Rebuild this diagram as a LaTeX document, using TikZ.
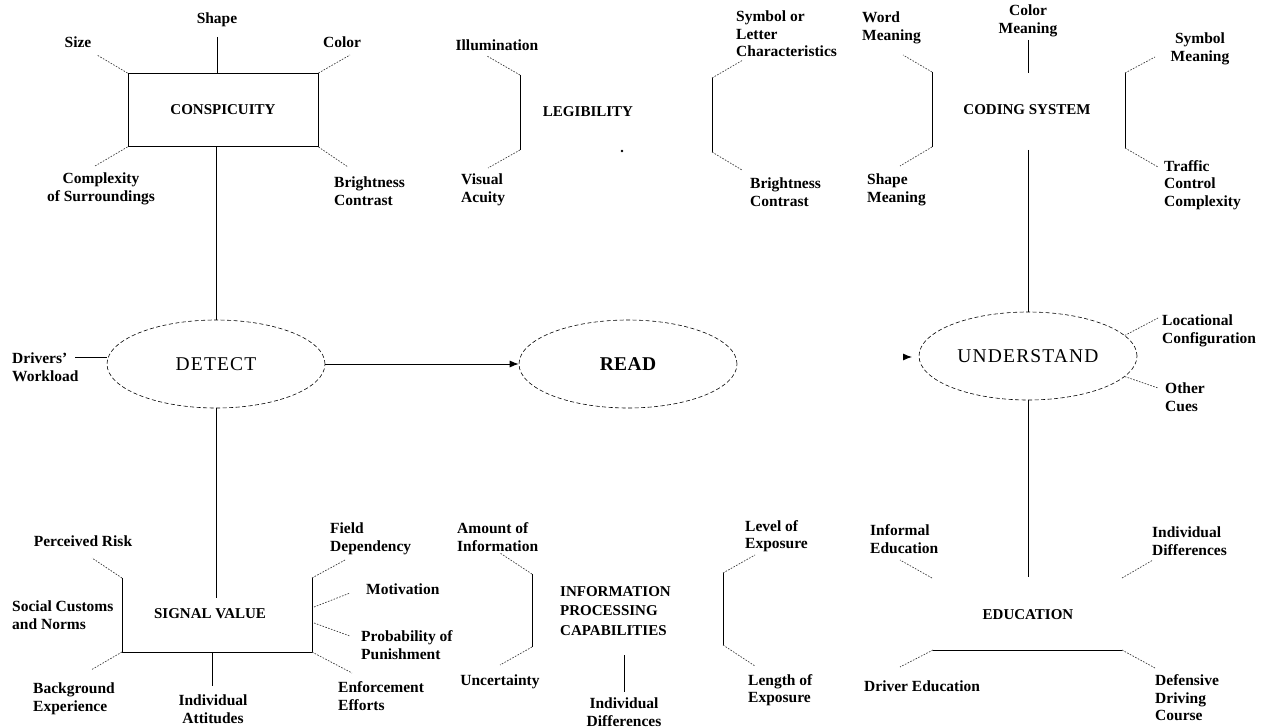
\documentclass[tikz,border=0pt]{standalone}
\usepackage{fontspec}
\setmainfont{Liberation Serif}
\usepackage{tikz}
\usetikzlibrary{arrows.meta,shapes.geometric}

\begin{document}
\begin{tikzpicture}[x=1pt, y=-1pt,
		label_style/.style={font=\bfseries\fontsize{15.5}{17.5}\selectfont, inner sep=0pt, align=left},
		title_style/.style={font=\bfseries\fontsize{15}{19.5}\selectfont, inner sep=0pt, align=left},
		oval_style/.style={ellipse, draw=black, dash pattern=on 4pt off 2.5pt, line width=0.6pt,
			minimum width=218pt, minimum height=88pt, inner sep=0pt,
			font=\fontsize{19.5}{21}\selectfont\addfontfeatures{LetterSpace=6}},
		edge_style/.style={draw=black, line width=0.9pt},
		dash_style/.style={draw=black!75, dash pattern=on 1.6pt off 1.4pt, line width=0.7pt}]
		
		\useasboundingbox (0,0) rectangle (1274,727);
		
		% conspicuity
		\node[draw=black, line width=0.9pt, minimum width=190pt, minimum height=73pt, inner sep=0pt,
			title_style] (consp) at (223,110) {CONSPICUITY};
		\node[label_style] (shape) at (217,20) {Shape};
		\node[label_style] (size) at (78,42) {Size};
		\node[label_style] (color) at (342,42) {Color};
		\node[label_style, align=center] (complex) at (101,189) {Complexity\\of Surroundings};
		\node[label_style, anchor=west] (bright1) at (334,191) {Brightness\\Contrast};
		\coordinate (shape_end) at (217,37);
		\coordinate (size_end) at (97,55);
		\coordinate (color_end) at (350,55);
		\coordinate (complex_end) at (95,166);
		\coordinate (bright1_end) at (348,167);
		
		\draw[edge_style] (shape_end) edge (shape_end |- consp.north);
		\draw[dash_style] (consp.north west) edge (size_end);
		\draw[dash_style] (consp.north east) edge (color_end);
		\draw[dash_style] (consp.south west) edge (complex_end);
		\draw[dash_style] (consp.south east) edge (bright1_end);
		
		% legibility
		\node[title_style] (legib) at (588,112) {LEGIBILITY};
		\coordinate (legdot) at (622,151);
		\fill (legdot) circle (1.3pt);
		\node[label_style] (illum) at (497,45) {Illumination};
		\node[label_style, anchor=west] (acuity) at (461,190) {Visual\\Acuity};
		\node[label_style, anchor=west] (symlet) at (736,34) {Symbol or\\Letter\\Characteristics};
		\node[label_style, anchor=west] (bright2) at (750,192) {Brightness\\Contrast};
		\coordinate (leg_lt) at (520,75);
		\coordinate (leg_lb) at (520,150);
		\coordinate (leg_rt) at (712,78);
		\coordinate (leg_rb) at (712,152);
		\coordinate (illum_end) at (487,56);
		\coordinate (acuity_end) at (488,168);
		\coordinate (symlet_end) at (743,60);
		\coordinate (bright2_end) at (742,170);
		
		\draw[edge_style] (leg_lt) edge (leg_lb);
		\draw[edge_style] (leg_rt) edge (leg_rb);
		\draw[dash_style] (leg_lt) edge (illum_end);
		\draw[dash_style] (leg_lb) edge (acuity_end);
		\draw[dash_style] (leg_rt) edge (symlet_end);
		\draw[dash_style] (leg_rb) edge (bright2_end);
		
		% coding system
		\node[title_style] (coding) at (1027,110) {CODING SYSTEM};
		\node[label_style, anchor=west] (word) at (862,28) {Word\\Meaning};
		\node[label_style, anchor=west] (shapem) at (867,190) {Shape\\Meaning};
		\node[label_style, align=center] (colorm) at (1028,21) {Color\\Meaning};
		\node[label_style, align=center] (symm) at (1200,49) {Symbol\\Meaning};
		\node[label_style, anchor=west] (traffic) at (1164,185) {Traffic\\Control\\Complexity};
		\coordinate (cod_lt) at (932,72);
		\coordinate (cod_lb) at (932,147);
		\coordinate (cod_rt) at (1125,73);
		\coordinate (cod_rb) at (1125,148);
		\coordinate (colorm_end) at (1028,40);
		\coordinate (colorm_low) at (1028,73);
		\coordinate (coding_low) at (1028,150);
		\coordinate (word_end) at (903,55);
		\coordinate (shapem_end) at (900,166);
		\coordinate (symm_end) at (1155,57);
		\coordinate (traffic_end) at (1158,167);
		
		\draw[edge_style] (cod_lt) edge (cod_lb);
		\draw[edge_style] (cod_rt) edge (cod_rb);
		\draw[edge_style] (colorm_end) edge (colorm_low);
		\draw[dash_style] (cod_lt) edge (word_end);
		\draw[dash_style] (cod_lb) edge (shapem_end);
		\draw[dash_style] (cod_rt) edge (symm_end);
		\draw[dash_style] (cod_rb) edge (traffic_end);
		
		% detect, read, understand
		\node[oval_style] (detect) at (216,364) {DETECT};
		\node[oval_style, font=\bfseries\fontsize{19.5}{21}\selectfont\addfontfeatures{LetterSpace=2}] (read) at (628,364) {READ};
		\node[oval_style] (under) at (1028,356) {UNDERSTAND};
		\node[label_style, anchor=west] (drivers) at (12,367) {Drivers'\\Workload};
		\node[label_style, anchor=west] (locat) at (1162,331) {Locational\\Configuration};
		\node[label_style, anchor=west] (cues) at (1165,397) {Other\\Cues};
		\coordinate (drivers_end) at (75,357);
		\coordinate (locat_end) at (1158,318);
		\coordinate (cues_end) at (1158,388);
		\coordinate (under_in) at (903,357);
		\coordinate (under_tip) at (912,357);
		
		\draw[edge_style] (consp.south -| detect) edge (detect.north);
		\draw[edge_style] (drivers_end) edge (drivers_end -| detect.west);
		\draw[edge_style, -{Latex[length=9pt, width=7pt]}] (detect.east) -- (read.west);
		\draw[edge_style, -{Latex[length=9pt, width=7pt]}] (under_in) -- (under_tip);
		\draw[edge_style] (coding_low) edge (under.north);
		\draw[dash_style] (under.12) edge (locat_end);
		\draw[dash_style] (under.-12) edge (cues_end);
		
		% signal value
		\node[title_style] (signal) at (210,614) {SIGNAL VALUE};
		\node[label_style] (risk) at (83,541) {Perceived Risk};
		\node[label_style, anchor=west] (social) at (12,615) {Social Customs\\and Norms};
		\node[label_style, anchor=west] (backgr) at (33,699) {Background\\Experience};
		\node[label_style, align=center] (attit) at (213,709) {Individual\\Attitudes};
		\node[label_style, anchor=west] (field) at (330,539) {Field\\Dependency};
		\node[label_style, anchor=west] (motiv) at (366,589) {Motivation};
		\node[label_style, anchor=west] (punish) at (361,645) {Probability of\\Punishment};
		\node[label_style, anchor=west] (enforce) at (338,696) {Enforcement\\Efforts};
		\coordinate (detect_low) at (216,598);
		\coordinate (sv_lt) at (122,578);
		\coordinate (sv_lb) at (122,652);
		\coordinate (sv_rb) at (312,652);
		\coordinate (sv_rt) at (312,578);
		\coordinate (sv_mid) at (212,652);
		\coordinate (attit_end) at (212,686);
		\coordinate (sv_r1) at (314,607);
		\coordinate (sv_r2) at (314,623);
		\coordinate (risk_end) at (92,558);
		\coordinate (backgr_end) at (91,670);
		\coordinate (field_end) at (345,560);
		\coordinate (motiv_end) at (350,593);
		\coordinate (punish_end) at (350,636);
		\coordinate (enforce_end) at (352,673);
		
		\draw[edge_style] (detect.south) -- (detect_low);
		\draw[edge_style] (sv_lt) -- (sv_lb) -- (sv_rb) -- (sv_rt);
		\draw[edge_style] (sv_mid) edge (attit_end);
		\draw[dash_style] (sv_lt) edge (risk_end);
		\draw[dash_style] (sv_lb) edge (backgr_end);
		\draw[dash_style] (sv_rt) edge (field_end);
		\draw[dash_style] (sv_r1) edge (motiv_end);
		\draw[dash_style] (sv_r2) edge (punish_end);
		\draw[dash_style] (sv_rb) edge (enforce_end);
		
		% information processing
		\node[title_style, anchor=west] (info) at (560,611) {INFORMATION\\PROCESSING\\CAPABILITIES};
		\node[label_style, anchor=west] (amount) at (457,537) {Amount of\\Information};
		\node[label_style] (uncert) at (500,682) {Uncertainty};
		\node[label_style, align=center] (indiv1) at (624,712) {Individual\\Differences};
		\node[label_style, anchor=west] (level) at (745,536) {Level of\\Exposure};
		\node[label_style, anchor=west] (length) at (748,690) {Length of\\Exposure};
		\coordinate (ip_lt) at (532,574);
		\coordinate (ip_lb) at (532,647);
		\coordinate (ip_rt) at (723,573);
		\coordinate (ip_rb) at (723,645);
		\coordinate (ip_mid) at (624,655);
		\coordinate (indiv1_end) at (624,692);
		\coordinate (amount_end) at (500,553);
		\coordinate (uncert_end) at (500,665);
		\coordinate (level_end) at (755,555);
		\coordinate (length_end) at (755,666);
		
		\draw[edge_style] (ip_lt) edge (ip_lb);
		\draw[edge_style] (ip_rt) edge (ip_rb);
		\draw[edge_style] (ip_mid) edge (indiv1_end);
		\draw[dash_style] (ip_lt) edge (amount_end);
		\draw[dash_style] (ip_lb) edge (uncert_end);
		\draw[dash_style] (ip_rt) edge (level_end);
		\draw[dash_style] (ip_rb) edge (length_end);
		
		% education
		\node[title_style] (educ) at (1028,615) {EDUCATION};
		\node[label_style, anchor=west] (informal) at (870,539) {Informal\\Education};
		\node[label_style, anchor=west] (indiv2) at (1152,541) {Individual\\Differences};
		\node[label_style, anchor=west] (drived) at (864,686) {Driver Education};
		\node[label_style, anchor=west] (defens) at (1155,698) {Defensive\\Driving\\Course};
		\coordinate (under_low) at (1028,577);
		\coordinate (ed_l) at (933,650);
		\coordinate (ed_r) at (1122,650);
		\coordinate (informal_a) at (932,578);
		\coordinate (informal_end) at (900,560);
		\coordinate (indiv2_a) at (1122,578);
		\coordinate (indiv2_end) at (1153,560);
		\coordinate (drived_end) at (900,667);
		\coordinate (defens_end) at (1155,668);
		
		\draw[edge_style] (under.south) -- (under_low);
		\draw[edge_style] (ed_l) edge (ed_r);
		\draw[dash_style] (informal_a) edge (informal_end);
		\draw[dash_style] (indiv2_a) edge (indiv2_end);
		\draw[dash_style] (ed_l) edge (drived_end);
		\draw[dash_style] (ed_r) edge (defens_end);
		
\end{tikzpicture}
\end{document}
